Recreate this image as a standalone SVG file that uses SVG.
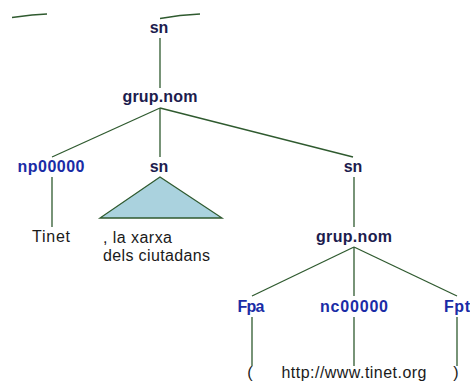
<svg xmlns="http://www.w3.org/2000/svg" width="470" height="385" viewBox="0 0 470 385">
<style>
.ph{font-family:"Liberation Sans",Arial,sans-serif;font-weight:bold;font-size:16px;fill:#1c1c4e;text-anchor:middle}
.tag{font-family:"Liberation Sans",Arial,sans-serif;font-weight:bold;font-size:16px;fill:#1a2ca6;text-anchor:middle}
.lf{font-family:"Liberation Sans",Arial,sans-serif;font-size:16px;fill:#1a1a1a}
.ln{stroke:#2f5a2f;stroke-width:1.3;fill:none}
</style>
<rect width="470" height="385" fill="#ffffff"/>
<g id="connectors">
<path class="ln" d="M12 17.5 L32 15 L47 14"/>
<path class="ln" d="M160 18.5 L180 15.5 L200 14"/>
<line class="ln" x1="160" y1="38" x2="160" y2="88"/>
<line class="ln" x1="160" y1="108" x2="52" y2="157"/>
<line class="ln" x1="160" y1="108" x2="160" y2="157"/>
<line class="ln" x1="160" y1="108" x2="353" y2="157"/>
<line class="ln" x1="52" y1="177" x2="52" y2="227"/>
<line class="ln" x1="354" y1="177" x2="354" y2="227"/>
<line class="ln" x1="354" y1="247" x2="252" y2="296"/>
<line class="ln" x1="354" y1="247" x2="354" y2="296"/>
<line class="ln" x1="354" y1="247" x2="457" y2="296"/>
<line class="ln" x1="252" y1="317" x2="252" y2="366"/>
<line class="ln" x1="354" y1="317" x2="354" y2="366"/>
<line class="ln" x1="457" y1="317" x2="457" y2="366"/>
</g>
<g id="sn-root"><text class="ph" x="159" y="33">sn</text></g>
<g id="grupnom-1"><text class="ph" x="160" y="102" textLength="75">grup.nom</text></g>
<g id="np00000"><text class="tag" x="51" y="172" textLength="67">np00000</text></g>
<g id="tinet"><text class="lf" x="51" y="242" text-anchor="middle" textLength="38">Tinet</text></g>
<g id="sn-mid">
<text class="ph" x="159" y="172">sn</text>
<polygon points="160,177 100,218 222,218" fill="#aad2de" stroke="#2f5a2f" stroke-width="1.3"/>
</g>
<g id="la-xarxa">
<text class="lf" x="103" y="243" textLength="69">, la xarxa</text>
<text class="lf" x="103" y="261" textLength="107">dels ciutadans</text>
</g>
<g id="sn-right"><text class="ph" x="353" y="172">sn</text></g>
<g id="grupnom-2"><text class="ph" x="354" y="242" textLength="76">grup.nom</text></g>
<g id="Fpa"><text class="tag" x="251" y="312" textLength="27">Fpa</text></g>
<g id="nc00000"><text class="tag" x="354" y="312" textLength="68">nc00000</text></g>
<g id="Fpt"><text class="tag" x="457" y="312" textLength="26">Fpt</text></g>
<g id="paren-open"><text class="lf" x="250" y="378" text-anchor="middle">(</text></g>
<g id="url"><text class="lf" x="354" y="378" text-anchor="middle" textLength="145">http://www.tinet.org</text></g>
<g id="paren-close"><text class="lf" x="456" y="378" text-anchor="middle">)</text></g>
</svg>
